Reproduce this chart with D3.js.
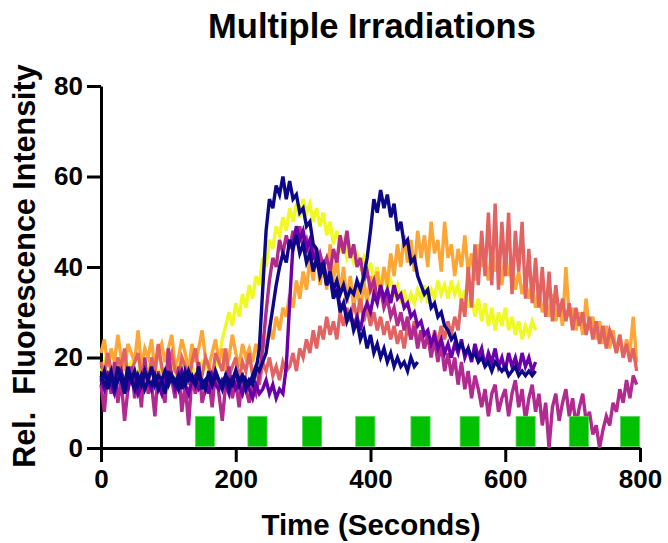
<!DOCTYPE html>
<html>
<head>
<meta charset="utf-8">
<script src="https://cdn.jsdelivr.net/npm/d3@7"></script>
<style>
  html, body { margin: 0; padding: 0; background: #fff; }
  svg { display: block; }
</style>
</head>
<body>
<div id="chart"></div>
<script>
// Multiple Irradiations: fluorescence traces, one sample every 5 s from t = 0
const TIME_STEP = 5

const navy1Values = [15,17,13,16,14,18,15,12,16,15,17,14,16,13,15,18,14,16,15,12,17,15,14,16,13,17,15,16,14,18,13,15,16,14,17,15,13,16,15,14,17,15,16,13,15,14,
  17,22,35,48,55,53,58,56,60,55, 59,55,56,52,53,49,50,45,44,39, 41,36,38,33,35,30,32,28,30,26,
  28,24,26,22,25,21,23,20,22,19, 21,18,20,18,19,17,20,18,19]

const navy2Values = [16,14,15,17,13,15,16,14,18,15,13,16,14,17,15,14,16,13,15,17,14,16,15,13,16,14,17,15,14,16,15,13,17,14,16,15,14,16,13,15,17,14,16,15,14,16,18,17,19,
  21,26,31,36,40,43,41,46,44,47, 43,45,41,43,39,42,38,40,36,39, 35,37,34,36,33,35,34,37,35,38,
  42,48,55,52,57,53,56,51,54,48, 50,45,46,41,42,38,36,34,35,31, 32,29,30,27,26,24,25,22,23,21,
  22,20,21,19,20,18,19,17,19,18, 17,18,16,17,18,16,17,16,17,16,17]

const purpleValues = [15,13,16,14,12,15,17,14,13,16,15,12,14,17,15,13,16,14,12,15,14,16,13,15,17,14,12,15,16,13,14,15,12,16,14,13,15,14,12,16,13,14,12,15,13,11,14,12,13,15,12,14,11,13,12,
  18,32,45,49,46,48,44,46,42,43, 40,41,37,38,34,35,31,32,29,30, 27,29,26,30,32,30,34,32,36,33,
  35,32,36,33,34,31,32,29,30,27, 28,25,26,23,25,22,24,21,23,20, 23,21,24,20,22,19,23,20,22,18,
  21,19,22,18,20,17,21,18,20,17, 21,18,20,17,19]

const magentaValues = [14,8,17,12,19,10,15,6,13,18,11,16,9,20,12,14,7,17,13,10,22,15,11,18,8,14,5,16,12,19,10,13,15,9,17,12,6,14,18,11,15,9,16,13,10,14,12,
  16,22,30,37,42,40,46,43,47,44, 48,45,49,44,46,42,45,41,43,40, 42,39,44,41,47,43,48,42,45,40,
  42,37,39,35,37,33,35,31,33,29, 31,27,30,26,29,24,27,22,26,22, 25,20,24,19,23,17,21,16,20,14,
  19,13,17,11,16,13,9,13,7,12, 14,8,11,13,7,12,15,9,13,6, 11,14,8,12,5,10,0,9,12,6,
  10,13,7,11,5,9,12,6,8,3, 5,0,4,7,5,10,8,13,10,15, 11,16,14]

const salmonValues = [19,16,21,17,14,20,18,22,15,17,19,21,16,18,14,20,17,23,18,15,19,21,17,16,20,18,14,19,22,17,16,20,18,15,21,19,17,22,16,18,20,15,19,17,21,16,18,14,19,17,20,16,18,15,19,17,
  18,21,17,22,20,24,21,26,22,27, 24,29,25,28,24,30,27,31,28,32, 29,33,28,31,27,30,26,29,25,28,
  24,27,23,26,22,27,24,28,23,26, 22,25,21,26,23,27,24,28,25,29, 26,33,29,40,31,45,36,48,38,52,
  36,54,35,50,38,52,34,48,39,50, 33,44,32,42,31,40,29,39,28,36, 29,33,28,32,26,31,27,30,25,29,
  24,28,23,27,22,26,24,21,25,20, 23,19,22,17]

const orangeValues = [21,24,18,22,19,25,20,17,23,21,19,26,18,22,20,24,17,21,23,19,22,25,18,20,24,21,17,23,19,22,26,20,18,21,24,19,22,17,20,25,21,18,23,20,22,19,
  23,20,25,22,27,24,29,26,31,29, 34,31,37,33,39,35,42,37,44,36, 41,35,45,37,42,34,40,32,38,31,
  36,30,37,32,38,33,39,34,40,36, 43,38,45,40,47,41,46,39,48,42, 47,40,50,43,46,39,50,42,45,38,
  44,40,47,39,43,37,45,40,42,37, 44,39,41,36,43,38,40,35,39,34, 37,33,36,31,35,30,33,29,34,28,
  32,27,40,29,31,26,30,25,33,26, 29,24,28,23,27,22,26,21,25,20, 24,21,29,19]

const yellowValues = [17,19,15,18,16,20,17,14,18,19,16,17,20,15,18,17,19,16,18,15,17,20,16,18,17,19,15,18,16,17,19,18,17,16,18,
  20,24,27,30,27,32,29,34,31,36, 33,38,36,42,40,46,44,49,47,51, 48,53,50,54,51,55,52,54,50,53,
  49,52,47,50,45,48,44,46,42,44, 41,43,40,42,38,41,37,40,36,39, 35,37,34,36,32,35,31,34,32,35,
  33,36,32,35,33,37,34,36,33,37, 34,36,32,35,31,34,29,33,28,32, 27,31,26,30,27,31,26,29,25,28,
  24,27,25,28,26]

// drawn bottom to top
const series = [
  { name: "yellow",  color: "#f0f921", values: yellowValues },
  { name: "orange",  color: "#fca636", values: orangeValues },
  { name: "salmon",  color: "#e16462", values: salmonValues },
  { name: "magenta", color: "#b12a90", values: magentaValues },
  { name: "purple",  color: "#6a00a8", values: purpleValues },
  { name: "navy2",   color: "#0d0887", values: navy2Values },
  { name: "navy1",   color: "#0d0887", values: navy1Values },
]

// irradiation pulses (start time in s, duration in s)
const pulseStarts = [140, 218, 299, 378, 460, 533, 616, 695, 771]
const pulseLength = 28.5
const pulseLevel = 7

const xTicks = [0, 200, 400, 600, 800]
const yTicks = [0, 20, 40, 60, 80]

const W = 668, H = 543
const FONT = "'Liberation Sans', Arial, Helvetica, sans-serif"

const svg = d3.select("#chart").append("svg")
  .attr("width", W).attr("height", H)
  .style("background", "#fff")

const x = d3.scaleLinear().domain([0, 800]).range([101, 640])
const y = d3.scaleLinear().domain([0, 80]).range([448, 86])

const styleAxis = g => {
  g.select(".domain").attr("stroke", "#000").attr("stroke-width", 3)
  g.selectAll(".tick line").attr("stroke", "#000").attr("stroke-width", 3)
  g.selectAll(".tick text")
    .attr("fill", "#000")
    .attr("font-family", FONT)
    .attr("font-weight", "bold")
    .attr("font-size", 26)
}

svg.append("g")
  .attr("transform", `translate(0,${y(0)})`)
  .call(d3.axisBottom(x).tickValues(xTicks).tickSize(14).tickSizeOuter(0).tickPadding(8))
  .call(styleAxis)

svg.append("g")
  .attr("transform", `translate(${x(0)},0)`)
  .call(d3.axisLeft(y).tickValues(yTicks).tickSize(14).tickSizeOuter(0).tickPadding(4))
  .call(styleAxis)

// traces
const line = d3.line()
  .x(d => x(d[0]))
  .y(d => y(d[1]))

svg.append("g")
  .selectAll("path.trace")
  .data(series)
  .join("path")
  .attr("class", "trace")
  .attr("fill", "none")
  .attr("stroke", d => d.color)
  .attr("stroke-width", 3.4)
  .attr("d", d => line(d.values.map((v, i) => [i * TIME_STEP, v])))

// irradiation markers
svg.append("g")
  .selectAll("rect")
  .data(pulseStarts)
  .join("rect")
  .attr("x", d => x(d))
  .attr("width", d => x(d + pulseLength) - x(d))
  .attr("y", y(pulseLevel))
  .attr("height", y(0) - y(pulseLevel) - 1.5)
  .attr("fill", "#00c000")
  .attr("stroke", "#5fd65f")
  .attr("stroke-width", 0.8)

// titles
svg.append("text")
  .attr("x", 372).attr("y", 38)
  .attr("text-anchor", "middle")
  .attr("font-family", FONT).attr("font-weight", "bold").attr("font-size", 34.5)
  .text("Multiple Irradiations")

svg.append("text")
  .attr("x", 371).attr("y", 535)
  .attr("text-anchor", "middle")
  .attr("font-family", FONT).attr("font-weight", "bold").attr("font-size", 29.5)
  .text("Time (Seconds)")

svg.append("text")
  .attr("transform", "translate(35,266) rotate(-90)")
  .attr("text-anchor", "middle")
  .attr("font-family", FONT).attr("font-weight", "bold").attr("font-size", 30.5)
  .style("white-space", "pre")
  .text("Rel.  Fluorescence Intensity")
</script>
</body>
</html>
